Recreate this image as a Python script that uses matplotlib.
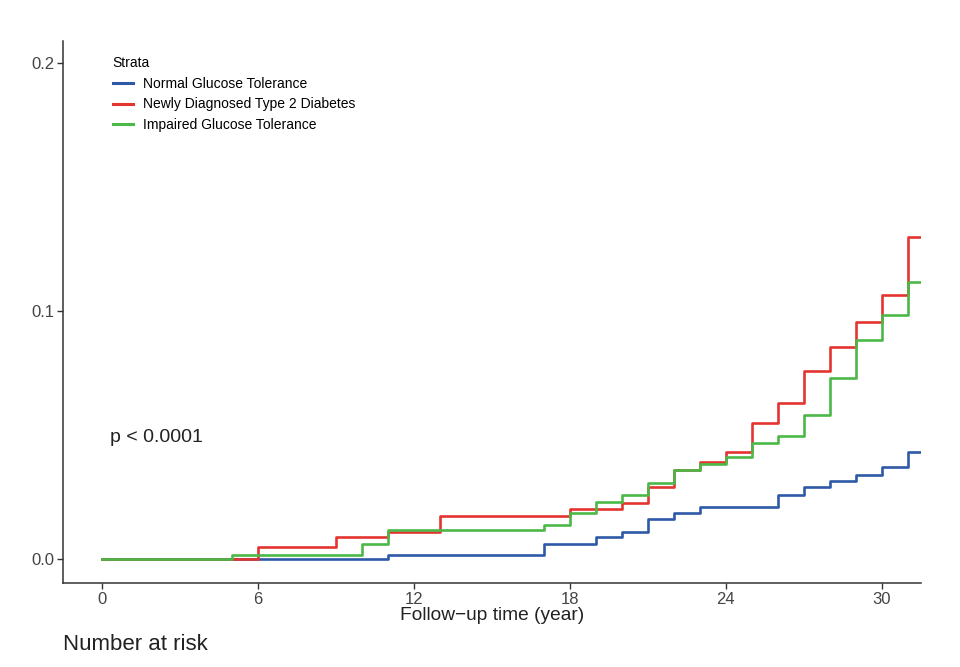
import numpy as np
import matplotlib
matplotlib.use("Agg")
import matplotlib.pyplot as plt

plt.rcParams['font.family'] = ['Liberation Sans', 'DejaVu Sans']

t_end = 31.5

ngt_t = [0, 11, 17, 19, 20, 21, 22, 23, 26, 27, 28, 29, 30, 31]
ngt_y = [0, 0.0016, 0.006, 0.009, 0.011, 0.016, 0.0185, 0.021, 0.026, 0.029, 0.0313, 0.034, 0.037, 0.043]

t2d_t = [0, 6, 9, 11, 13, 18, 20, 21, 22, 23, 24, 25, 26, 27, 28, 29, 30, 31]
t2d_y = [0, 0.005, 0.009, 0.0107, 0.0175, 0.020, 0.0225, 0.029, 0.036, 0.039, 0.043,
         0.055, 0.063, 0.076, 0.0857, 0.0957, 0.1066, 0.1298]

igt_t = [0, 5, 10, 11, 17, 18, 19, 20, 21, 22, 23, 24, 25, 26, 27, 28, 29, 30, 31]
igt_y = [0, 0.0016, 0.0059, 0.0117, 0.0138, 0.0185, 0.0232, 0.0259, 0.0306, 0.036, 0.0383,
         0.041, 0.0468, 0.0495, 0.0583, 0.0729, 0.0884, 0.0984, 0.1119]

labels = ['Normal Glucose Tolerance', 'Newly Diagnosed Type 2 Diabetes', 'Impaired Glucose Tolerance']
colors = ['#2E59A8', '#E3342F', '#4CB848']

fig = plt.figure(figsize=(9.6, 6.67), dpi=100)
ax = fig.add_axes([0.066, 0.1255, 0.893, 0.8135])

series = [(ngt_t, ngt_y), (t2d_t, t2d_y), (igt_t, igt_y)]
for (t, y), lab, col in zip(series, labels, colors):
    tt = list(t) + [t_end]
    yy = list(y) + [y[-1]]
    ax.step(tt, yy, where='post', color=col, lw=1.9, label=lab)

ax.set_xlim(-1.5, 31.5)
ax.set_ylim(-0.0098, 0.2092)
ax.set_xticks([0, 6, 12, 18, 24, 30])
ax.set_yticks([0.0, 0.1, 0.2])
ax.set_yticklabels(['0.0', '0.1', '0.2'])
for s in ['top', 'right']:
    ax.spines[s].set_visible(False)
for s in ['left', 'bottom']:
    ax.spines[s].set_color('#333333')
    ax.spines[s].set_linewidth(1.1)
ax.tick_params(colors='#333333', labelcolor='#444444', labelsize=12, length=4, width=1, pad=2.2)

ax.set_xlabel('Follow\u2212up time (year)', fontsize=13.8, color='#222222', labelpad=0)
ax.text(0.3, 0.049, 'p < 0.0001', fontsize=14, ha='left', va='center', color='#222222')

leg = ax.legend(loc='upper left', bbox_to_anchor=(0.043, 0.994), frameon=False,
                title='Strata', fontsize=10, title_fontsize=10, alignment='left',
                handlelength=1.45, handletextpad=0.72, labelspacing=0.47)
for line in leg.get_lines():
    line.set_linewidth(2.2)

fig.text(0.066, 0.033, 'Number at risk', fontsize=16, ha='left', va='center', color='#222222')

fig.savefig('out.png', dpi=100)
